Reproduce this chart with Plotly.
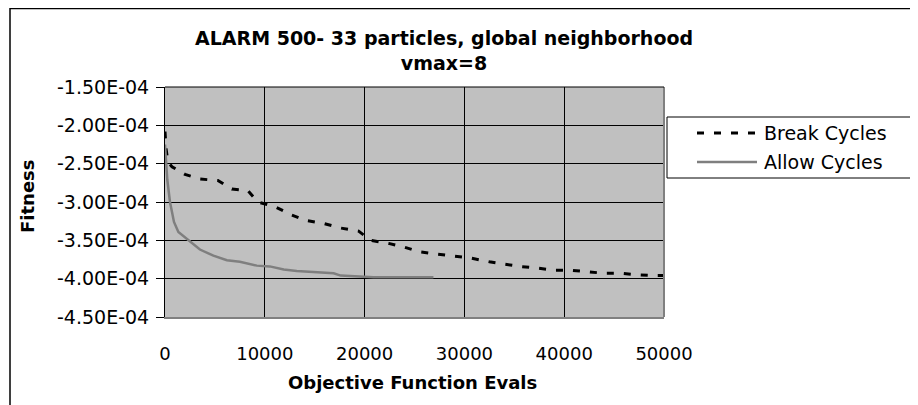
import plotly.graph_objects as go

# ---- data ----
break_x = [0, 100, 300, 700, 2000, 3500, 5300, 6700, 8300, 9300, 11000, 12700, 14100, 15900,
           17600, 19400, 20600, 22400, 24000, 25500, 27300, 28900, 30600, 32500, 33900, 35500,
           37200, 39000, 40700, 42200, 44000, 45700, 47300, 49000, 50000]
break_y = [-2.08e-4, -2.30e-4, -2.48e-4, -2.54e-4, -2.64e-4, -2.70e-4, -2.72e-4, -2.83e-4, -2.85e-4,
           -3.00e-4, -3.06e-4, -3.17e-4, -3.24e-4, -3.28e-4, -3.34e-4, -3.38e-4, -3.50e-4, -3.54e-4,
           -3.59e-4, -3.65e-4, -3.68e-4, -3.70e-4, -3.73e-4, -3.78e-4, -3.81e-4, -3.84e-4, -3.86e-4,
           -3.89e-4, -3.89e-4, -3.91e-4, -3.93e-4, -3.93e-4, -3.95e-4, -3.96e-4, -3.96e-4]

allow_x = [0, 100, 230, 500, 900, 1340, 2500, 3500, 4850, 6200, 7500, 9200, 10500, 11900, 13200,
           14900, 16900, 17600, 19600, 20900, 26900]
allow_y = [-2.25e-4, -2.45e-4, -2.71e-4, -3.00e-4, -3.26e-4, -3.39e-4, -3.52e-4, -3.62e-4, -3.70e-4,
           -3.76e-4, -3.78e-4, -3.83e-4, -3.84e-4, -3.88e-4, -3.90e-4, -3.91e-4, -3.93e-4, -3.96e-4,
           -3.97e-4, -3.98e-4, -3.98e-4]

series_names = ["Break Cycles", "Allow Cycles"]

y_tickvals = [-1.5e-4, -2.0e-4, -2.5e-4, -3.0e-4, -3.5e-4, -4.0e-4, -4.5e-4]
y_ticktext = ["-1.50E-04", "-2.00E-04", "-2.50E-04", "-3.00E-04", "-3.50E-04", "-4.00E-04", "-4.50E-04"]
x_tickvals = [0, 10000, 20000, 30000, 40000, 50000]
x_ticktext = ["0", "10000", "20000", "30000", "40000", "50000"]

title_text = "ALARM 500- 33 particles, global neighborhood<br>vmax=8"
x_title = "Objective Function Evals"
y_title = "Fitness"

FONT = "DejaVu Sans"
OFF = 8                      # page body margin of the html page
W, H = 918 - OFF, 405 - OFF
L, R, T, B = 165, 664, 87, 317  # plot area box in reference pixel coords

BREAK_STYLE = dict(color="black", width=3, dash="7px,10px")
ALLOW_STYLE = dict(color="#7f7f7f", width=2.5)


def px(xp):
    return (xp - L) / (R - L)


def py(yp):
    return (B - yp) / (B - T)


fig = go.Figure()
fig.add_trace(go.Scatter(x=break_x, y=break_y, mode="lines", name=series_names[0],
                         line=BREAK_STYLE, showlegend=False))
fig.add_trace(go.Scatter(x=allow_x, y=allow_y, mode="lines", name=series_names[1],
                         line=ALLOW_STYLE, showlegend=False))

# legend box drawn by hand to match the reference geometry
LEG_X0, LEG_X1, LEG_Y0, LEG_Y1 = 667, 916, 117, 178
leg_rows = [133, 162]
leg_styles = [BREAK_STYLE, ALLOW_STYLE]

shapes = [
    dict(type="rect", xref="paper", yref="paper", x0=px(10), x1=px(940),
         y0=py(430), y1=py(OFF + 0.5), line=dict(color="black", width=1.5), layer="below"),
    dict(type="line", xref="paper", yref="paper", x0=1, x1=1, y0=0, y1=1,
         line=dict(color="#808080", width=2)),
    dict(type="line", xref="paper", yref="paper", x0=0, x1=1, y0=1, y1=1,
         line=dict(color="black", width=1)),
    dict(type="rect", xref="paper", yref="paper", x0=px(LEG_X0), x1=px(LEG_X1),
         y0=py(LEG_Y1), y1=py(LEG_Y0), line=dict(color="black", width=1), fillcolor="white"),
]
annotations = [
    dict(text=title_text, xref="paper", yref="paper", x=px(444), y=py(50),
         xanchor="center", yanchor="middle", showarrow=False,
         font=dict(family=FONT, size=19, color="black", weight="bold")),
    dict(text=x_title, xref="paper", yref="paper", x=px(412), y=py(382),
         xanchor="center", yanchor="middle", showarrow=False,
         font=dict(family=FONT, size=18, color="black", weight="bold")),
    dict(text=y_title, xref="paper", yref="paper", x=px(27), y=py(196),
         xanchor="center", yanchor="middle", showarrow=False, textangle=-90,
         font=dict(family=FONT, size=18, color="black", weight="bold")),
]
for name, row, st in zip(series_names, leg_rows, leg_styles):
    shapes.append(dict(type="line", xref="paper", yref="paper", x0=px(697), x1=px(757),
                       y0=py(row), y1=py(row), line=st))
    annotations.append(dict(text=name, xref="paper", yref="paper", x=px(762), y=py(row),
                            xanchor="left", yanchor="middle", showarrow=False,
                            font=dict(family=FONT, size=19, color="black")))

fig.update_layout(
    width=W, height=H,
    margin=dict(l=L - OFF, r=W - (R - OFF), t=T - OFF, b=H - (B - OFF), autoexpand=False),
    paper_bgcolor="white",
    plot_bgcolor="#c0c0c0",
    font=dict(family=FONT, color="black"),
    showlegend=False,
    xaxis=dict(
        range=[0, 50000], tickvals=x_tickvals, ticktext=x_ticktext,
        showgrid=True, gridcolor="black", gridwidth=1, zeroline=False,
        showline=True, linecolor="#808080", linewidth=2,
        ticks="", ticklabelstandoff=19,
        tickfont=dict(family=FONT, size=18, color="black"),
    ),
    yaxis=dict(
        range=[-4.5e-4, -1.5e-4], tickvals=y_tickvals, ticktext=y_ticktext,
        showgrid=True, gridcolor="black", gridwidth=1, zeroline=False,
        showline=True, linecolor="black", linewidth=1,
        ticks="outside", ticklen=8, tickcolor="black", ticklabelstandoff=3,
        tickfont=dict(family=FONT, size=19, color="black"),
    ),
    annotations=annotations,
    shapes=shapes,
)

fig.write_html("out.html")
